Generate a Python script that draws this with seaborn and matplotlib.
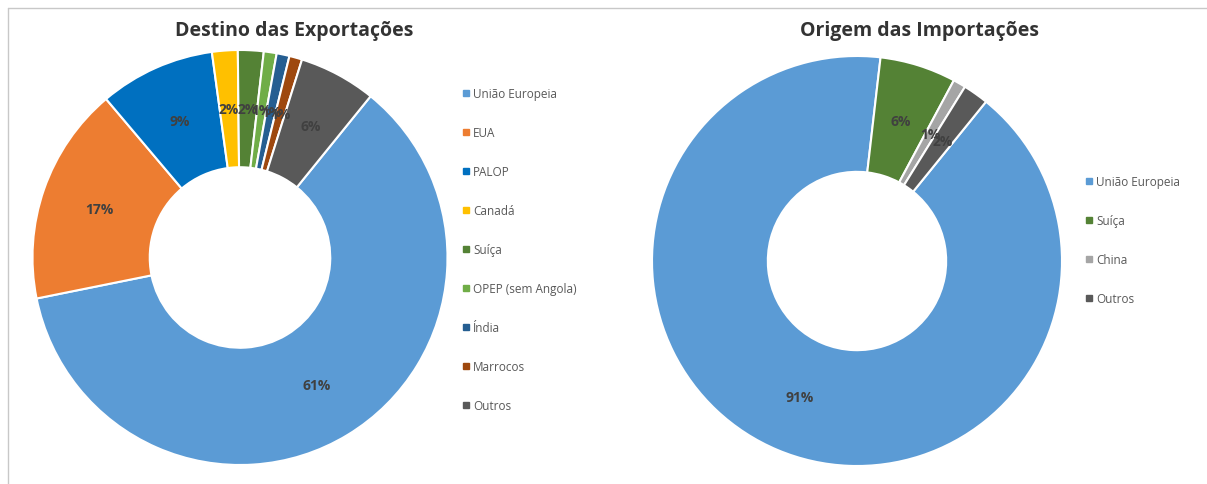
import matplotlib
matplotlib.use("Agg")
import matplotlib.pyplot as plt
from matplotlib.lines import Line2D
import seaborn as sns

# ---- data ----
exp_labels = ["União Europeia", "EUA", "PALOP", "Canadá", "Suíça", "OPEP (sem Angola)",
              "Índia", "Marrocos", "Outros"]
exp_values = [61, 17, 9, 2, 2, 1, 1, 1, 6]
exp_colors = ["#5B9BD5", "#ED7D31", "#0070C0", "#FFC000", "#548235", "#70AD47",
              "#255E91", "#9E480E", "#595959"]

imp_labels = ["União Europeia", "Suíça", "China", "Outros"]
imp_values = [91, 6, 1, 2]
imp_colors = ["#5B9BD5", "#548235", "#A5A5A5", "#595959"]

titles = ["Destino das Exportações", "Origem das Importações"]

sns.set_theme(style="white")
plt.rcParams["font.family"] = ["Open Sans", "DejaVu Sans"]

W, H = 1207, 485
fig = plt.figure(figsize=(W / 100, H / 100), dpi=100)
fig.patch.set_facecolor("white")

# border lines (top and left), as in the reference
fig.add_artist(Line2D([8 / W, 1], [1 - 9 / H, 1 - 9 / H], color="#c8c8c8", lw=1,
                      transform=fig.transFigure))
fig.add_artist(Line2D([8 / W, 8 / W], [0, 1 - 9 / H], color="#c8c8c8", lw=1,
                      transform=fig.transFigure))


def donut(cx, cy, r, values, colors, labels, legend_x, legend_y, title, title_x):
    ax = fig.add_axes([(cx - r) / W, (H - cy - r) / H, 2 * r / W, 2 * r / H])
    hole = 0.435
    pal = sns.color_palette(colors)
    wedges, _, autotexts = ax.pie(
        values, colors=pal, startangle=51, counterclock=False, radius=1,
        autopct="%.0f%%", pctdistance=(1 + hole) / 2,
        wedgeprops=dict(width=1 - hole, edgecolor="white", linewidth=1.5),
        textprops=dict(color="#404040", fontsize=10, fontweight="bold"),
    )
    ax.set_xlim(-1, 1)
    ax.set_ylim(-1, 1)
    ax.set_aspect("equal")
    ax.axis("off")
    handles = [Line2D([0], [0], marker="s", linestyle="", markersize=5,
                      markerfacecolor=c, markeredgecolor=c) for c in pal]
    fig.legend(handles, labels, loc="upper left",
               bbox_to_anchor=(legend_x / W, 1 - legend_y / H),
               frameon=False, fontsize=8.5, labelspacing=2.2,
               handlelength=0.6, handletextpad=0.35, borderpad=0, borderaxespad=0,
               labelcolor="#595959")
    fig.text(title_x / W, 1 - 31 / H, title, ha="center", va="center",
             fontsize=14, fontweight="bold", color="#333333")


donut(240, 258.5, 207.5, exp_values, exp_colors, exp_labels, 462, 88, titles[0], 294)
donut(857, 262, 205, imp_values, imp_colors, imp_labels, 1085, 176, titles[1], 920)

fig.savefig("out.png", dpi=100, facecolor="white")
